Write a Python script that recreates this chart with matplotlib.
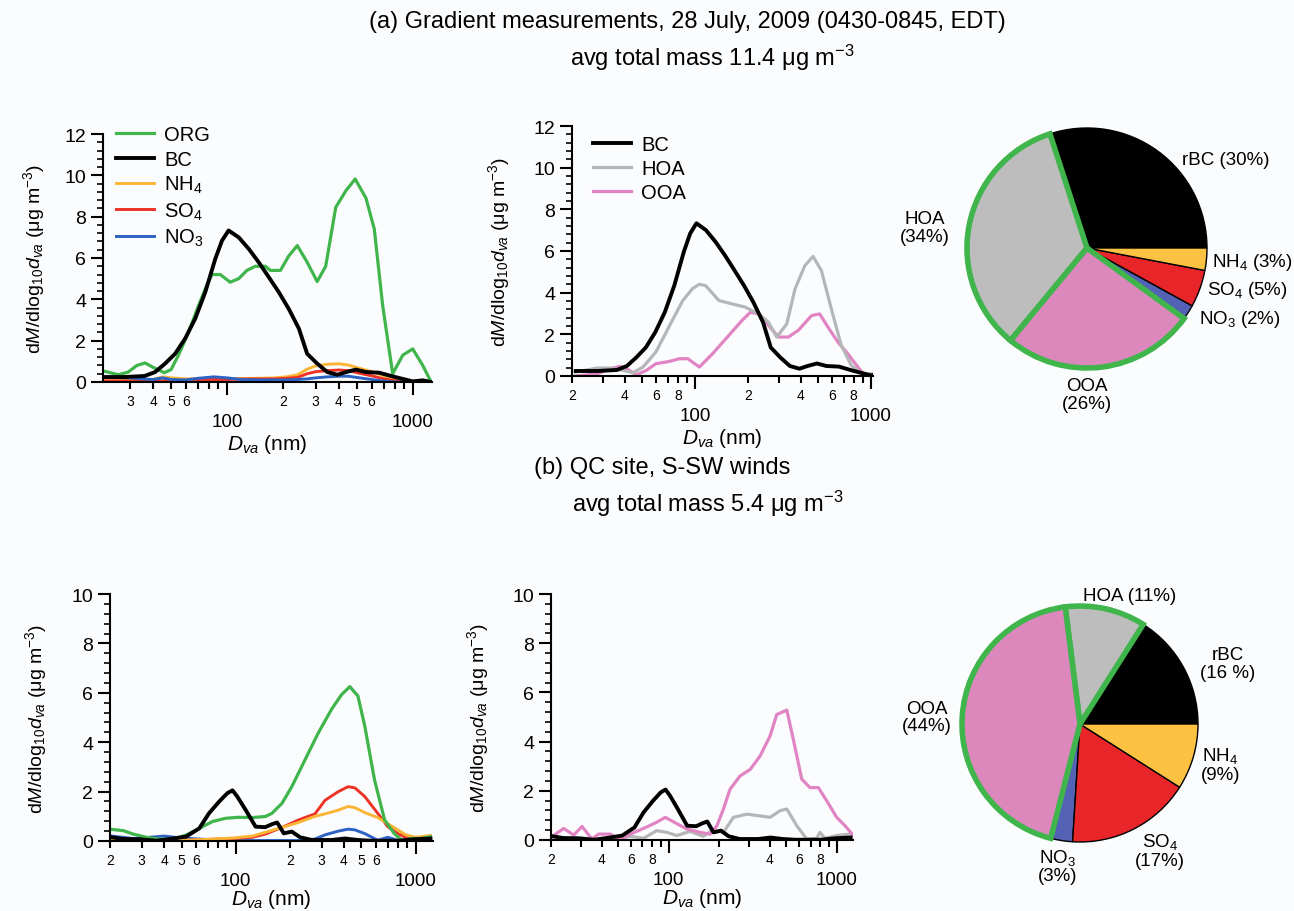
import matplotlib
matplotlib.use('Agg')
import matplotlib.pyplot as plt
import numpy as np
from matplotlib.ticker import FixedLocator, FuncFormatter, MultipleLocator

plt.rcParams['font.family'] = ['Liberation Sans', 'DejaVu Sans']
plt.rcParams['mathtext.fontset'] = 'custom'
plt.rcParams['mathtext.rm'] = 'Liberation Sans'
plt.rcParams['mathtext.it'] = 'Liberation Sans:italic'
plt.rcParams['mathtext.bf'] = 'Liberation Sans:bold'

# ---- (a) gradient measurements: size distributions ----
d_org_a = [21, 26, 29.4, 32.7, 36.2, 40.2, 46, 50, 54.8, 62, 70.3, 78, 83, 92, 104, 115.6, 128, 142,
           161, 171, 194, 215, 239, 270, 306, 340, 385, 437, 490, 560, 621, 689, 780, 884, 1000, 1133, 1256]
org_a = [0.56, 0.35, 0.48, 0.8, 0.92, 0.7, 0.45, 0.6, 1.3, 2.4, 3.7, 4.7, 5.2, 5.2, 4.83, 5.0, 5.4, 5.6,
         5.6, 5.4, 5.4, 6.1, 6.6, 5.8, 4.86, 5.6, 8.45, 9.26, 9.82, 8.9, 7.4, 3.7, 0.4, 1.3, 1.6, 0.8, 0.0]

d_bc_a = [21, 28, 36, 41, 46.4, 52.6, 59.5, 67.4, 76.4, 86.5, 94, 102, 115.6, 131, 148, 168, 190, 215,
          244, 270, 306, 347, 393, 437, 494, 560, 660, 780, 1000, 1133, 1256]
bc_a = [0.24, 0.24, 0.29, 0.48, 0.89, 1.37, 2.1, 3.06, 4.35, 5.96, 6.84, 7.33, 7.0, 6.44, 5.8, 5.07, 4.35, 3.54,
        2.58, 1.37, 0.89, 0.48, 0.35, 0.48, 0.6, 0.48, 0.45, 0.27, 0.03, 0.08, 0.0]

d_ion_a = [21, 25, 30, 35, 40, 45, 50, 60, 70, 85, 100, 120, 150, 180, 210, 240, 270, 300, 350, 400,
           450, 500, 600, 700, 800, 900, 1000, 1250]
nh4_a = [0.05, 0.06, 0.08, 0.1, 0.12, 0.25, 0.2, 0.15, 0.15, 0.16, 0.17, 0.17, 0.18, 0.2, 0.25, 0.35, 0.62, 0.78,
         0.86, 0.88, 0.82, 0.7, 0.5, 0.3, 0.12, 0.03, 0.0, 0.0]
so4_a = [0.05, 0.05, 0.05, 0.05, 0.05, 0.06, 0.07, 0.08, 0.1, 0.12, 0.12, 0.14, 0.15, 0.15, 0.18, 0.22, 0.4, 0.5,
         0.55, 0.58, 0.55, 0.45, 0.3, 0.15, 0.06, 0.02, 0.0, 0.0]
no3_a = [0.25, 0.22, 0.2, 0.15, 0.12, 0.2, 0.12, 0.1, 0.18, 0.25, 0.2, 0.12, 0.1, 0.1, 0.1, 0.12, 0.15, 0.2,
         0.25, 0.28, 0.28, 0.22, 0.12, 0.04, 0.0, 0.0, 0.0, 0.0]

d_hoa_a = [21, 27.7, 33, 39, 44.5, 50.7, 60, 71.6, 85, 97, 106, 115, 137, 163, 194, 230, 262, 292, 333, 371,
           422, 470, 524, 597, 680, 775, 883, 1005]
hoa_a = [0.19, 0.38, 0.38, 0.27, 0.16, 0.43, 1.15, 2.4, 3.6, 4.2, 4.4, 4.34, 3.62, 3.46, 3.3, 2.98, 2.58, 1.87,
         2.5, 4.18, 5.3, 5.74, 5.06, 3.22, 1.47, 0.51, 0.11, 0.11]
d_ooa_a = [21, 27.7, 33, 37.5, 40.9, 46.5, 53, 60, 71.6, 81.6, 91, 106, 126, 156, 185, 207, 230, 262, 299, 340,
           387, 461, 512, 571, 650, 740, 845, 922, 1005]
ooa_a = [0.0, 0.1, 0.35, 0.46, 0.35, 0.06, 0.27, 0.59, 0.7, 0.83, 0.83, 0.43, 1.07, 1.95, 2.66, 3.06, 2.98, 2.43,
         1.87, 1.87, 2.19, 2.9, 2.98, 2.35, 1.63, 1.07, 0.43, 0.03, 0.06]

# ---- (b) QC site: size distributions ----
d_org_b = [20.4, 23.7, 26.9, 31.9, 37.7, 44.8, 53, 62.7, 74.3, 88, 104, 124, 146, 159, 181, 205, 243, 288,
           341, 388, 431, 478, 522, 591, 673, 760, 846, 941, 1068, 1210]
org_b = [0.47, 0.42, 0.28, 0.15, 0.07, 0.07, 0.24, 0.51, 0.79, 0.92, 0.96, 0.95, 0.99, 1.12, 1.53, 2.2, 3.29, 4.38,
         5.33, 5.93, 6.25, 5.87, 4.65, 2.48, 0.85, 0.31, 0.0, 0.1, 0.1, 0.17]

d_bc_b = [20.4, 23.7, 29.3, 36.2, 44.8, 53, 62.7, 71, 81, 90, 96, 102, 113.5, 129, 146, 159, 170, 185, 205,
          228, 265, 341, 405, 478, 568, 797, 984, 1210]
bc_b = [0.15, 0.08, 0.07, 0.01, 0.1, 0.18, 0.51, 1.12, 1.6, 1.94, 2.05, 1.8, 1.26, 0.58, 0.56, 0.68, 0.75, 0.31,
        0.38, 0.15, 0.04, 0.04, 0.1, 0.04, 0.01, 0.01, 0.07, 0.1]

d_ion_b = [20.4, 27, 33, 40, 50, 62, 75, 96, 124, 146, 181, 223, 276, 314, 372, 422, 460, 522, 616, 701,
           797, 880, 1000, 1210]
so4_b = [0.05, 0.0, 0.01, 0.02, 0.03, 0.05, 0.07, 0.1, 0.15, 0.28, 0.55, 0.85, 1.1, 1.65, 2.0, 2.2, 2.15, 1.8,
         1.12, 0.58, 0.3, 0.15, 0.1, 0.1]
nh4_b = [0.1, 0.05, 0.04, 0.02, 0.03, 0.05, 0.08, 0.12, 0.2, 0.35, 0.55, 0.75, 1.0, 1.1, 1.25, 1.4, 1.35, 1.15,
         0.95, 0.7, 0.45, 0.25, 0.15, 0.22]
no3_b = [0.2, 0.1, 0.15, 0.2, 0.12, 0.08, 0.05, 0.03, 0.02, 0.02, 0.02, 0.02, 0.08, 0.25, 0.4, 0.48, 0.45, 0.3,
         0.03, 0.15, 0.03, 0.05, 0.05, 0.05]

d_ooa_b = [20.7, 23.8, 27.3, 30.6, 35, 38.4, 45, 51.6, 59.2, 71, 85, 95.5, 107, 128, 154, 177, 194, 212, 232,
           266, 306, 350, 401, 440, 505, 552, 620, 694, 778, 873, 1000, 1120, 1257]
ooa_b = [0.18, 0.47, 0.2, 0.55, 0.04, 0.24, 0.24, 0.01, 0.24, 0.47, 0.72, 0.92, 0.74, 0.45, 0.31, 0.24, 0.58,
         1.26, 2.06, 2.6, 2.87, 3.41, 4.22, 5.1, 5.28, 4.09, 2.47, 2.13, 2.13, 1.59, 0.92, 0.58, 0.18]
d_hoa_b = [55, 59, 71, 85, 97.7, 112, 134, 161, 185, 212, 243, 292, 350, 401, 460, 505, 579, 663, 760, 795,
           851, 1000, 1200]
hoa_b = [0.1, 0.15, 0.07, 0.38, 0.31, 0.18, 0.35, 0.15, 0.42, 0.31, 0.92, 1.05, 0.98, 0.92, 1.19, 1.26, 0.58,
         0.04, 0.07, 0.31, 0.07, 0.18, 0.24]

# ---- pie fractions (%), order: rBC, HOA, OOA, NO3, SO4, NH4 ----
pie_names = ['rBC', 'HOA', 'OOA', 'NO3', 'SO4', 'NH4']
pie_a = [30, 34, 26, 2, 5, 3]
pie_b = [16, 11, 44, 3, 17, 9]

c_org = '#3fb54b'
c_bc = 'black'
c_nh4 = '#fbb535'
c_so4 = '#ec3326'
c_no3 = '#2c62c4'
c_hoa = '#b4b6b8'
c_ooa = '#e184c4'
pie_colors = ['black', '#bdbdbd', '#dc88bd', '#5462b5', '#e8262a', '#fdc241']

bg = '#fbfcfe'
ylab = r'd$M$/dlog$_{10}$$d_{va}$ (μg $\mathrm{m}^{-3}$)'
xlab = r'$D_{va}$ (nm)'

fig = plt.figure(figsize=(12.94, 9.12), dpi=100, facecolor=bg)
W, H = 1294, 912


def add_ax(x0, x1, ytop, ybot):
    return fig.add_axes([x0 / W, 1 - ybot / H, (x1 - x0) / W, (ybot - ytop) / H])


def style(ax, xlo, xhi, ytop, digits, ylx, xpad=2):
    ax.set_facecolor('none')
    ax.set_xscale('log')
    ax.set_xlim(xlo, xhi)
    ax.set_ylim(0, ytop)
    for s in ['top', 'right']:
        ax.spines[s].set_visible(False)
    for s in ['left', 'bottom']:
        ax.spines[s].set_linewidth(1.5)
    ax.xaxis.set_major_locator(FixedLocator([100, 1000]))
    ax.xaxis.set_major_formatter(FuncFormatter(lambda v, p: f'{v:.0f}'))
    minors = [m * 10 ** e for e in (1, 2) for m in range(2, 10)]
    ax.xaxis.set_minor_locator(FixedLocator(minors))

    def mfmt(v, p):
        dgt = int(round(v / 10 ** np.floor(np.log10(v))))
        if v < 100 and xlo > 20:
            return str(dgt) if dgt in digits and dgt != 2 else ''
        return str(dgt) if dgt in digits else ''
    ax.xaxis.set_minor_formatter(FuncFormatter(mfmt))
    ax.yaxis.set_major_locator(MultipleLocator(2))
    ax.yaxis.set_minor_locator(MultipleLocator(0.4))
    ax.tick_params(axis='x', which='major', length=9, width=1.5, labelsize=13.5, pad=13)
    ax.tick_params(axis='x', which='minor', length=5, width=1.5, labelsize=10, pad=4)
    ax.tick_params(axis='y', which='major', length=9, width=1.5, labelsize=14, pad=3)
    ax.tick_params(axis='y', which='minor', length=4.5, width=1.2)
    ax.set_ylabel(ylab, fontsize=14)
    ax.yaxis.set_label_coords(ylx, 0.5)
    ax.set_xlabel(xlab, fontsize=15, labelpad=xpad)


lw_ion, lw_org, lw_bc = 2.1, 2.3, 2.8
leg_kw = dict(loc='upper left', frameon=False, fontsize=14.5, handlelength=1.9, handletextpad=0.5,
              labelspacing=0.26, borderpad=0, borderaxespad=0)

# ---- top-left ----
ax1 = add_ax(103, 432, 135, 383)
l_nh4, = ax1.plot(d_ion_a, nh4_a, color=c_nh4, lw=lw_ion, label=r'NH$_4$')
l_so4, = ax1.plot(d_ion_a, so4_a, color=c_so4, lw=lw_ion, label=r'SO$_4$')
l_no3, = ax1.plot(d_ion_a, no3_a, color=c_no3, lw=lw_ion, label=r'NO$_3$')
l_org, = ax1.plot(d_org_a, org_a, color=c_org, lw=lw_org, label='ORG')
l_bc, = ax1.plot(d_bc_a, bc_a, color=c_bc, lw=lw_bc, label='BC')
style(ax1, 21.5, 1270, 12, [2, 3, 4, 5, 6], -0.17)
ax1.legend(handles=[l_org, l_bc, l_nh4, l_so4, l_no3], bbox_to_anchor=(0.04, 1.035), **leg_kw)

# ---- top-middle ----
ax2 = add_ax(572, 873, 127, 377)
ax2.plot(d_ooa_a, ooa_a, color=c_ooa, lw=lw_org)
ax2.plot(d_hoa_a, hoa_a, color=c_hoa, lw=lw_org)
ax2.plot(d_bc_a, bc_a, color=c_bc, lw=lw_bc)
h_bc, = ax2.plot([], [], color=c_bc, lw=lw_bc, label='BC')
h_hoa, = ax2.plot([], [], color=c_hoa, lw=lw_org, label='HOA')
h_ooa, = ax2.plot([], [], color=c_ooa, lw=lw_org, label='OOA')
style(ax2, 20, 1030, 12, [2, 4, 6, 8], -0.2)
ax2.legend(handles=[h_bc, h_hoa, h_ooa], bbox_to_anchor=(0.07, 0.965), **leg_kw)

# ---- bottom-left ----
ax3 = add_ax(110, 433, 595, 842)
ax3.plot(d_ion_b, no3_b, color=c_no3, lw=lw_ion)
ax3.plot(d_ion_b, so4_b, color=c_so4, lw=lw_ion)
ax3.plot(d_ion_b, nh4_b, color=c_nh4, lw=lw_ion)
ax3.plot(d_org_b, org_b, color=c_org, lw=lw_org)
ax3.plot(d_bc_b, bc_b, color=c_bc, lw=lw_bc)
style(ax3, 20, 1250, 10, [2, 3, 4, 5, 6], -0.19, xpad=-1)

# ---- bottom-middle ----
ax4 = add_ax(551, 853, 595, 841)
ax4.plot(d_hoa_b, hoa_b, color=c_hoa, lw=lw_org)
ax4.plot(d_ooa_b, ooa_b, color=c_ooa, lw=lw_org)
ax4.plot(d_bc_b, bc_b, color=c_bc, lw=lw_bc)
style(ax4, 20, 1250, 10, [2, 4, 6, 8], -0.2, xpad=-1)


# ---- pies ----
def draw_pie(cx, cy, r, frac, labels):
    ax = fig.add_axes([(cx - r) / W, 1 - (cy + r) / H, 2 * r / W, 2 * r / H])
    wedges, _ = ax.pie(frac, colors=pie_colors, startangle=0, counterclock=True,
                       wedgeprops=dict(edgecolor='black', linewidth=1.0))
    for i, w in enumerate(wedges):
        w.set_clip_on(False)
        if pie_names[i] in ('HOA', 'OOA'):
            w.set_edgecolor(c_org)
            w.set_linewidth(4.0)
            w.set_zorder(3)
    ax.set_xlim(-1, 1)
    ax.set_ylim(-1, 1)
    for (x, y, s, ha) in labels:
        ax.text(x, y, s, ha=ha, va='center', fontsize=13.5, linespacing=1.05)
    return ax


draw_pie(1087, 249, 120, pie_a, [
    (0.79, 0.74, 'rBC (%d%%)' % pie_a[0], 'left'),
    (-1.35, 0.17, 'HOA\n(%d%%)' % pie_a[1], 'center'),
    (0.0, -1.22, 'OOA\n(%d%%)' % pie_a[2], 'center'),
    (0.93, -0.59, r'NO$_3$ (%d%%)' % pie_a[3], 'left'),
    (1.0, -0.35, r'SO$_4$ (%d%%)' % pie_a[4], 'left'),
    (1.04, -0.11, r'NH$_4$ (%d%%)' % pie_a[5], 'left'),
])
draw_pie(1080, 725, 118, pie_b, [
    (1.25, 0.51, 'rBC\n(%d %%)' % pie_b[0], 'center'),
    (0.42, 1.09, 'HOA (%d%%)' % pie_b[1], 'center'),
    (-1.3, 0.06, 'OOA\n(%d%%)' % pie_b[2], 'center'),
    (-0.19, -1.2, 'NO$_3$\n(%d%%)' % pie_b[3], 'center'),
    (0.68, -1.07, 'SO$_4$\n(%d%%)' % pie_b[4], 'center'),
    (1.19, -0.34, 'NH$_4$\n(%d%%)' % pie_b[5], 'center'),
])

# ---- titles ----
tfs = 17
fig.text(687 / W, 1 - 22 / H, '(a) Gradient measurements, 28 July, 2009 (0430-0845, EDT)',
         ha='center', va='center', fontsize=tfs)
fig.text(712 / W, 1 - 58 / H, r'avg total mass 11.4 μg $\mathrm{m}^{-3}$', ha='center', va='center', fontsize=tfs)
fig.text(662 / W, 1 - 468 / H, '(b) QC site, S-SW winds', ha='center', va='center', fontsize=tfs)
fig.text(708 / W, 1 - 504 / H, r'avg total mass 5.4 μg $\mathrm{m}^{-3}$', ha='center', va='center', fontsize=tfs)

fig.savefig('out.png', dpi=100, facecolor=bg)
